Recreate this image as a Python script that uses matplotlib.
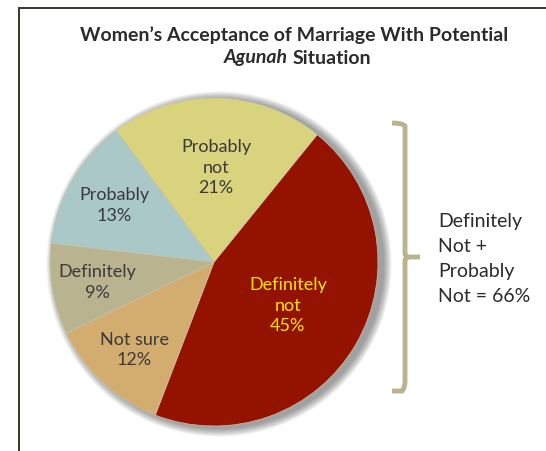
import numpy as np
import matplotlib.pyplot as plt
from matplotlib.patches import Circle, Rectangle
from matplotlib.path import Path
from matplotlib.patches import PathPatch

plt.rcParams['font.family'] = ['Lato', 'DejaVu Sans']

# data
labels = ["Definitely\nnot", "Not sure", "Definitely", "Probably", "Probably\nnot"]
values = [45, 12, 9, 13, 21]
colors = ["#931200", "#D3AC6F", "#B9B38F", "#ABC8C8", "#D9D37E"]
text_colors = ["#FFE600", "#3a3a3a", "#3a3a3a", "#3a3a3a", "#3a3a3a"]
label_r = [0.52, 0.72, 0.72, 0.70, 0.58]

W, H = 546, 452
fig = plt.figure(figsize=(W / 100, H / 100), dpi=100)
ax = fig.add_axes([0, 0, 1, 1])

cx, cy, R = 214, H - 263, 164

# soft shadow behind the pie
for i in range(12):
    ax.add_patch(Circle((cx + 5, cy - 2), R + 1 + i * 0.7, color="black",
                        alpha=0.035, lw=0, zorder=0))

wedges, _ = ax.pie(values, colors=colors, startangle=51, counterclock=False,
                   center=(cx, cy), radius=R, frame=True,
                   wedgeprops=dict(edgecolor="#c8c4a8", linewidth=0.5))

for w, lab, v, tc, lr in zip(wedges, labels, values, text_colors, label_r):
    mid = np.deg2rad((w.theta1 + w.theta2) / 2)
    x = cx + lr * R * np.cos(mid)
    y = cy + lr * R * np.sin(mid)
    ax.text(x, y, f"{lab}\n{v}%", ha="center", va="center", fontsize=13,
            color=tc, linespacing=1.35, zorder=5)

# title
ax.text(294, H - 35, "Women\u2019s Acceptance of Marriage With Potential",
        ha="center", va="center", fontsize=14, fontweight="bold", color="#2b2b2b")
ax.text(288, H - 58, "Agunah", ha="right", va="center", fontsize=14,
        fontweight="bold", fontstyle="italic", color="#2b2b2b")
ax.text(293, H - 58, "Situation", ha="left", va="center", fontsize=14,
        fontweight="bold", color="#2b2b2b")

# frame
ax.add_patch(Rectangle((19, -10), 600, H - 9 + 10, fill=False,
                       edgecolor="#3b3630", lw=1.4, zorder=1))

# bracket
bx, top, bot, mid_y = 405, H - 124, H - 392, H - 258
verts = [(392, top), (402, top), (bx, top - 3), (bx, top - 10),
         (bx, mid_y + 4), (bx, mid_y + 1), (408, mid_y), (420, mid_y),
         (408, mid_y), (bx, mid_y - 1), (bx, mid_y - 4),
         (bx, bot + 10), (bx, bot + 3), (402, bot), (392, bot)]
codes = [Path.MOVETO, Path.CURVE3, Path.CURVE3, Path.LINETO,
         Path.LINETO, Path.CURVE3, Path.CURVE3, Path.LINETO,
         Path.MOVETO, Path.CURVE3, Path.CURVE3,
         Path.LINETO, Path.CURVE3, Path.CURVE3, Path.LINETO]
ax.add_patch(PathPatch(Path(verts, codes), fill=False, edgecolor="#B9B38F",
                       lw=3.5, capstyle="butt", zorder=2))

ax.text(438, H - 259, "Definitely\nNot +\nProbably\nNot = 66%", ha="left",
        va="center", fontsize=14, color="#2b2b2b", linespacing=1.58)

ax.set_xlim(0, W)
ax.set_ylim(0, H)
ax.axis("off")
fig.savefig("out.png", dpi=100)
